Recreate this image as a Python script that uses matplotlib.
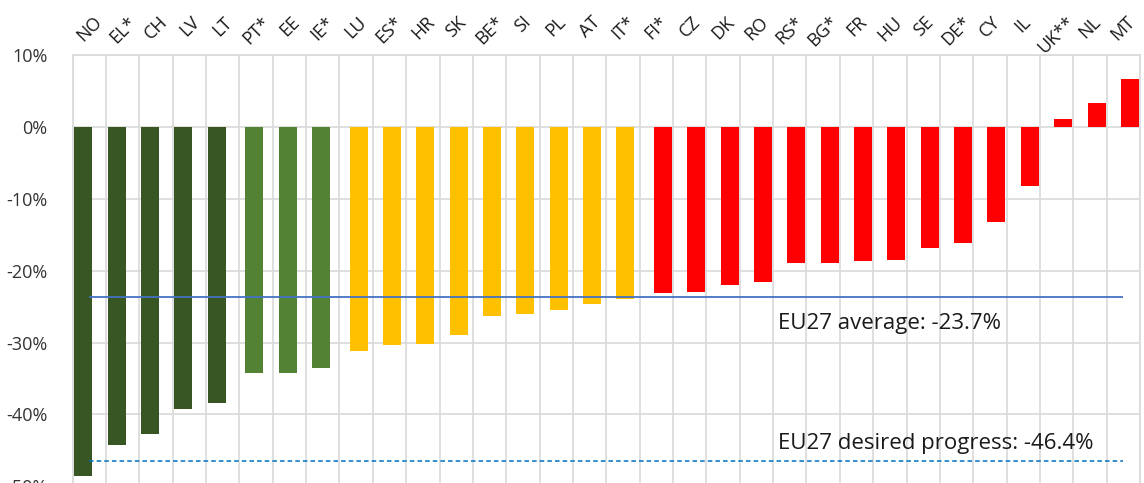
import numpy as np
import matplotlib
matplotlib.use("Agg")
import matplotlib.pyplot as plt
from matplotlib.transforms import blended_transform_factory

# countries, sorted by change
countries = ["NO", "EL*", "CH", "LV", "LT", "PT*", "EE", "IE*", "LU", "ES*",
             "HR", "SK", "BE*", "SI", "PL", "AT", "IT*", "FI*", "CZ", "DK",
             "RO", "RS*", "BG*", "FR", "HU", "SE", "DE*", "CY", "IL", "UK**",
             "NL", "MT"]
# change in %
values = [-48.5, -44.3, -42.7, -39.3, -38.4, -34.3, -34.2, -33.5, -31.2, -30.4,
          -30.2, -29.0, -26.25, -26.0, -25.55, -24.6, -23.9, -23.1, -23.0, -22.0,
          -21.6, -19.0, -19.0, -18.7, -18.6, -16.9, -16.15, -13.3, -8.2, 1.07,
          3.25, 6.6]
# colour group of each country
groups = [0] * 5 + [1] * 3 + [2] * 9 + [3] * 15
group_colors = ["#375623", "#548235", "#FFC000", "#FF0000"]

eu_average = -23.7
eu_desired = -46.4

plt.rcParams['font.family'] = ['Open Sans', 'DejaVu Sans']

fig = plt.figure(figsize=(11.44, 4.83), dpi=100)
# axes runs past the bottom edge, like the cropped original
ax = fig.add_axes([0.0635, -0.037, 0.933, 0.924])

n = len(countries)
x = np.arange(n)
g = np.array(groups)
offs = (g - 1.5) * 0.125 + 0.01
cols = [group_colors[i] for i in groups]
ax.bar(x + offs, values, width=0.54, color=cols, zorder=3)

ax.hlines(eu_average, 0, n - 1, color="#4472C4", lw=1.3, zorder=4)
ax.hlines(eu_desired, 0, n - 1, color="#0070C0", lw=1.1, linestyles=(0, (3, 2)), zorder=4)

ax.text(20.65, eu_average - 4.4, "EU27 average: -23.7%", fontsize=16, color="#1a1a1a")
ax.text(20.65, eu_desired + 1.55, "EU27 desired progress: -46.4%", fontsize=16, color="#1a1a1a")

ax.set_xlim(-0.5, n - 0.5)
ax.set_ylim(-52, 10)
ax.set_yticks(np.arange(-50, 11, 10))
ax.set_yticklabels([f"{v}%" for v in range(-50, 11, 10)])
ax.set_xticks(np.arange(-0.5, n, 1))
ax.set_xticklabels([])
ax.tick_params(length=0, labelsize=13, labelcolor="#333333")
ax.tick_params(axis="y", pad=18)
ax.grid(True, color="#D9D9D9", lw=1.2, zorder=0)
for s in ax.spines.values():
    s.set_color("#D9D9D9")
    s.set_linewidth(1.2)

# country labels at the top
tr = blended_transform_factory(ax.transData, fig.transFigure)
for i, c in enumerate(countries):
    ax.text(i, 0.973, c, transform=tr, rotation=45, ha="center", va="top",
            fontsize=13, color="#1a1a1a")

fig.savefig("out.png", dpi=100)
